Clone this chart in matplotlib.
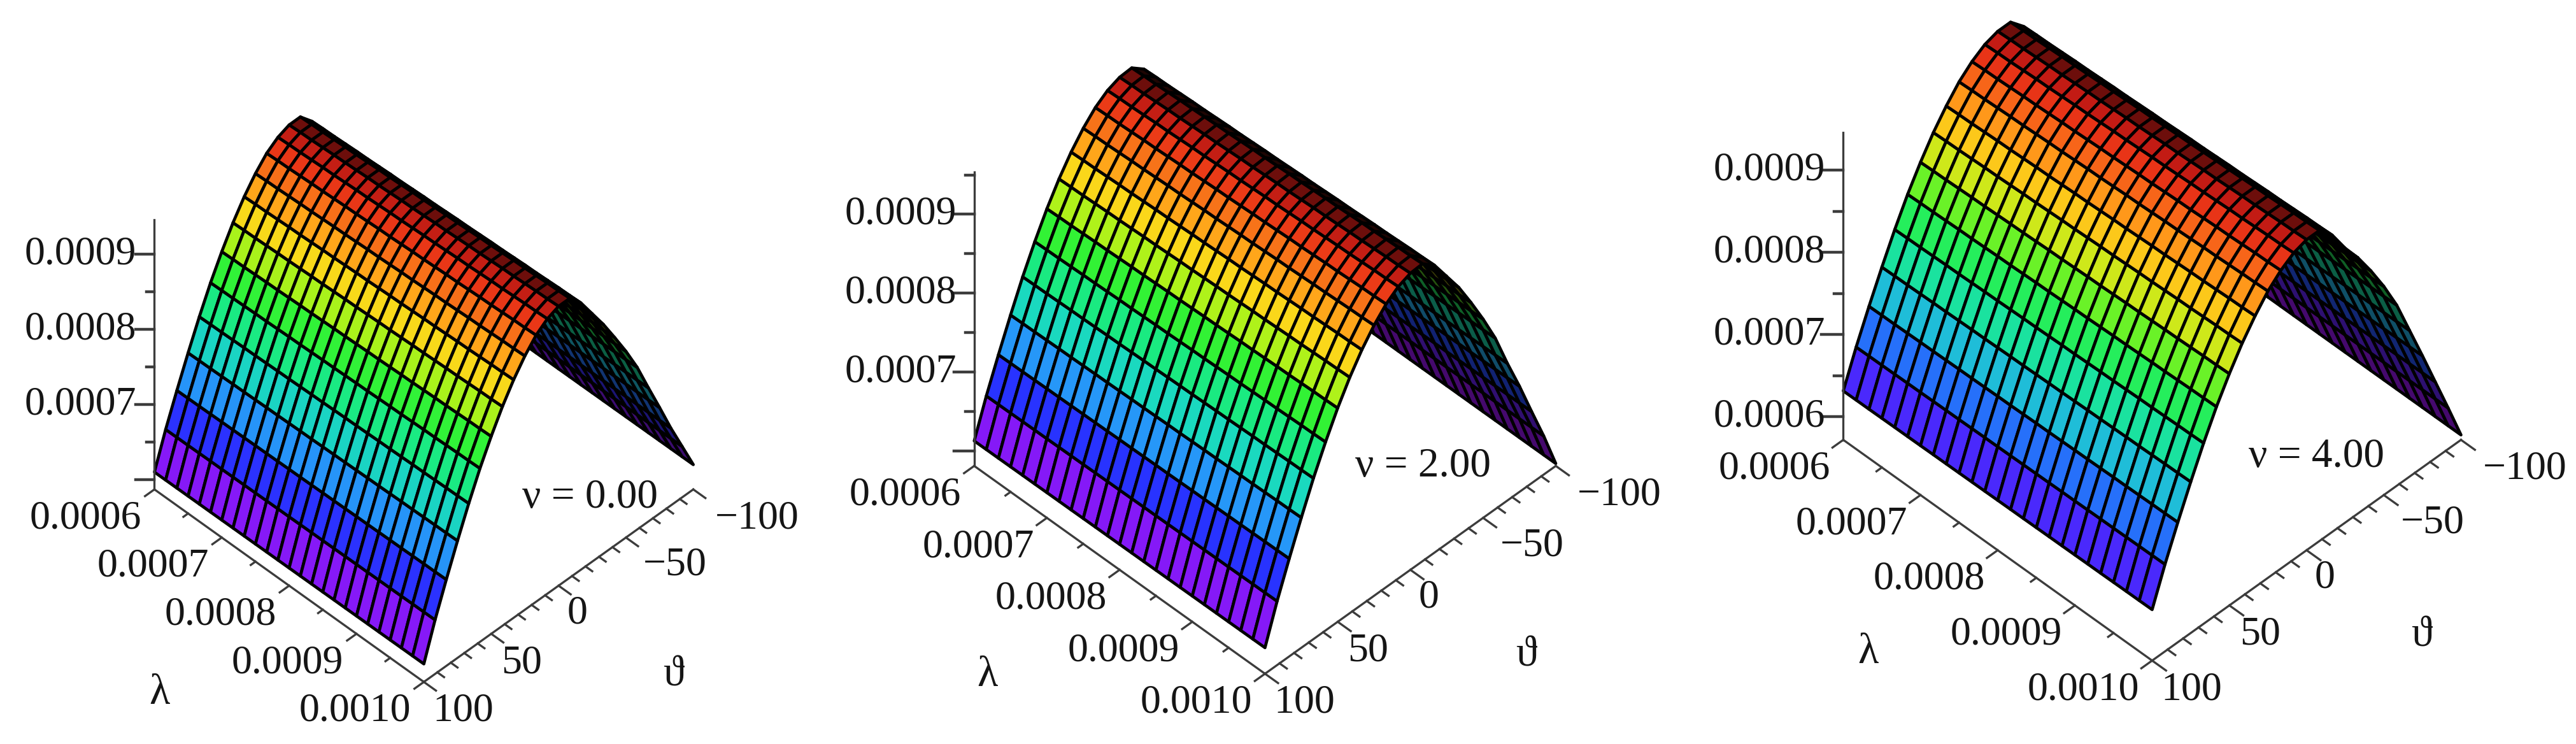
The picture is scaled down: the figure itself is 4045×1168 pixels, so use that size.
import numpy as np
import matplotlib
matplotlib.use('Agg')
import matplotlib.pyplot as plt
from matplotlib.colors import LinearSegmentedColormap, Normalize
from mpl_toolkits.mplot3d import proj3d

plt.rcParams['font.family'] = ['Liberation Serif', 'DejaVu Serif']

W = 4045
H = 1168
K = W / 1568.0   # thumbnail px -> full px

theta = np.linspace(-100, 100, 25)
lam = np.linspace(0.0006, 0.0010, 25)

# surface height along theta (-100..100) at lambda=0.0010, in 1e-4
prof_0 = [6.20, 6.55, 6.90, 7.28, 7.65, 8.03, 8.35, 8.64, 8.92, 9.17, 9.42, 9.59, 9.59,
          9.53, 9.42, 9.25, 9.04, 8.79, 8.50, 8.18, 7.82, 7.43, 7.02, 6.59, 6.11]
prof_2 = [5.84, 6.30, 6.72, 7.15, 7.55, 7.98, 8.33, 8.65, 8.95, 9.20, 9.45, 9.58, 9.57,
          9.51, 9.40, 9.24, 9.04, 8.80, 8.52, 8.20, 7.85, 7.46, 7.05, 6.62, 6.14]
prof_4 = [5.78, 6.22, 6.65, 7.08, 7.50, 7.92, 8.26, 8.56, 8.83, 9.06, 9.33, 9.50, 9.50,
          9.45, 9.35, 9.21, 9.02, 8.80, 8.54, 8.25, 7.92, 7.56, 7.18, 6.78, 6.34]

# the crest drops a little towards lambda=0.0006
lift = [.960, .962, .963, .965, .967, .968, .970, .972, .973, .975, .977, .978, .980,
        .982, .983, .985, .987, .988, .990, .992, .993, .995, .997, .998, 1.0]

# brightness of each mesh cell from theta=-100 to 100 (far side is the dark underside)
shade = [.45, .45, .45, .45, .42, .40, .34, .26, .16, .08, .12, .45,
         .80, .92, .97, 1, 1, 1, 1, 1, 1, 1, 1, 1]

nu_labels = ['ν = 0.00', 'ν = 2.00', 'ν = 4.00']
lam_ticks = [0.0006, 0.0007, 0.0008, 0.0009, 0.0010]
lam_labels = ['0.0006', '0.0007', '0.0008', '0.0009', '0.0010']
theta_ticks = [100, 50, 0, -50, -100]
theta_labels = ['100', '50', '0', '−50', '−100']
z_ticks_0 = [0.0007, 0.0008, 0.0009]
z_ticks_4 = [0.0006, 0.0007, 0.0008, 0.0009]

hue = LinearSegmentedColormap.from_list('zhue', [
    (0.00, (0.60, 0.08, 0.95)), (0.075, (0.52, 0.10, 0.97)), (0.206, (0.15, 0.20, 1.00)),
    (0.328, (0.15, 0.60, 0.97)), (0.443, (0.10, 0.85, 0.75)), (0.551, (0.10, 0.92, 0.50)),
    (0.649, (0.20, 0.95, 0.20)), (0.736, (0.70, 0.95, 0.10)), (0.81, (0.98, 0.85, 0.10)),
    (0.875, (1.00, 0.65, 0.10)), (0.93, (1.00, 0.45, 0.10)), (0.965, (1.00, 0.25, 0.10)),
    (1.00, (0.95, 0.12, 0.10)),
])

EL = 45.6
AZ = 45

fig = plt.figure(figsize=(W / 100, H / 100), dpi=100)


def px(ax, x, y, z):
    a, b, _ = proj3d.proj_transform(x, y, z, ax.get_proj())
    return ax.transData.transform((a, b))


def place(ax, left, bottom):
    # size and shift the axes so the floor corners land where they are in the picture
    side = 1600.0
    for i in range(3):
        ax.set_position([0, 0, side / W, side / H])
        ax.apply_aspect()
        p0 = px(ax, 100, 0.0006, ax.get_zlim()[0])
        p1 = px(ax, 100, 0.0010, ax.get_zlim()[0])
        side = side * (bottom[0] - left[0]) / (p1[0] - p0[0])
    ax.set_position([0, 0, side / W, side / H])
    ax.apply_aspect()
    p1 = px(ax, 100, 0.0010, ax.get_zlim()[0])
    dx = bottom[0] - p1[0]
    dy = (H - bottom[1]) - p1[1]
    ax.set_position([dx / W, dy / H, side / W, side / H])
    ax.apply_aspect()


def panel(prof, left, bottom, zbase, ztop, spacing, vmin, zticks, nu, nu_xy, lam_xy, th_xy):
    ax = fig.add_subplot(projection='3d', proj_type='ortho', computed_zorder=False)
    ax.view_init(elev=EL, azim=AZ)
    ax.set_axis_off()
    ax.patch.set_alpha(0)
    top = 0.00100
    half = (bottom[0] - left[0]) / K
    ax.set_box_aspect((half / 0.7071, half / 0.7071,
                       (top - zbase) / 1e-4 * spacing / np.cos(np.radians(EL))))
    ax.set_xlim(-100, 100, view_margin=0)
    ax.set_ylim(0.0006, 0.0010, view_margin=0)
    ax.set_zlim(zbase, top, view_margin=0)

    z1 = np.array(prof) * 1e-4
    X, Y = np.meshgrid(theta, lam)
    Z = zbase + (z1[None, :] - zbase) * np.array(lift)[:, None]

    norm = Normalize(vmin, max(z1))
    cell = (z1[:-1] + z1[1:]) / 2
    fc = hue(norm(cell))
    fc[:, :3] = fc[:, :3] * np.array(shade)[:, None]
    fcolors = np.tile(fc[None, :, :], (len(lam) - 1, 1, 1))
    surf = ax.plot_surface(X, Y, Z, facecolors=fcolors, rstride=1, cstride=1, shade=False,
                           edgecolor='black', linewidth=3.4, antialiased=True, zorder=1)
    surf.set_clip_on(False)

    place(ax, left, bottom)

    axis_c = '#3c3c3c'
    lw = 2.4
    lines = [
        ([100, 100], [0.0006, 0.0010], [zbase, zbase]),
        ([100, -100], [0.0010, 0.0010], [zbase, zbase]),
        ([100, 100], [0.0006, 0.0006], [zbase, ztop]),
    ]
    for lx, ly, lz in lines:
        ln, = ax.plot(lx, ly, lz, color=axis_c, lw=lw, zorder=2)
        ln.set_clip_on(False)

    # ticks on lambda axis, every second one longer
    for i, v in enumerate(np.arange(0.0006, 0.00101, 0.00005)):
        d = 7 if i % 2 == 0 else 3.5
        ln, = ax.plot([100, 100 + d], [v, v], [zbase, zbase], color=axis_c, lw=lw, zorder=2)
        ln.set_clip_on(False)
    # ticks on theta axis, every fifth one longer
    for v in np.arange(-100, 101, 10):
        d = 0.000018 if v % 50 == 0 else 0.00001
        ln, = ax.plot([v, v], [0.0010, 0.0010 + d], [zbase, zbase], color=axis_c, lw=lw, zorder=2)
        ln.set_clip_on(False)
    # ticks on z axis, pointing left on screen
    first = np.ceil(zbase / 5e-5) * 5e-5
    for v in np.arange(first, ztop, 5e-5):
        major = round(v / 5e-5) % 2 == 0
        d = 7 if major else 3
        ln, = ax.plot([100 + d, 100], [0.0006 - d * 2e-6, 0.0006], [v, v],
                      color=axis_c, lw=lw + 0.8, zorder=2)
        ln.set_clip_on(False)

    fs = 46
    for v, s in zip(lam_ticks, lam_labels):
        a, b, _ = proj3d.proj_transform(100, v, zbase, ax.get_proj())
        ax.annotate(s, (a, b), xytext=(-108, -46), textcoords='offset pixels', fontsize=fs,
                    ha='center', va='center', annotation_clip=False, color='#151515')
    th_off = [(62, -46), (48, -46), (29, -44), (77, -44), (100, -46)]
    for v, s, o in zip(theta_ticks, theta_labels, th_off):
        a, b, _ = proj3d.proj_transform(v, 0.0010, zbase, ax.get_proj())
        ax.annotate(s, (a, b), xytext=o, textcoords='offset pixels', fontsize=fs,
                    ha='center', va='center', annotation_clip=False, color='#151515')
    for v in zticks:
        a, b, _ = proj3d.proj_transform(100, 0.0006, v, ax.get_proj())
        ax.annotate('%.4f' % v, (a, b), xytext=(-28, 0), textcoords='offset pixels', fontsize=fs,
                    ha='right', va='center', annotation_clip=False, color='#151515')

    fig.text(nu_xy[0] * K / W, 1 - nu_xy[1] * K / H, nu, fontsize=47, ha='center', va='center',
             color='#151515')
    fig.text(lam_xy[0] * K / W, 1 - lam_xy[1] * K / H, 'λ', fontsize=48, ha='center',
             va='center', color='#151515')
    fig.text(th_xy[0] * K / W, 1 - th_xy[1] * K / H, 'ϑ', fontsize=48, ha='center',
             va='center', color='#151515')


panel(prof_0, (94 * K, 297 * K), (258 * K, 415 * K), 0.000587, 0.000946, 45.7, 6.10e-4,
      z_ticks_0, nu_labels[0], (359, 303), (97, 422), (410, 411))
panel(prof_2, (593 * K, 284 * K), (770 * K, 410 * K), 0.000581, 0.000954, 48, 6.12e-4,
      z_ticks_0, nu_labels[1], (866, 284), (601, 411), (929, 399))
panel(prof_4, (1122 * K, 268 * K), (1310 * K, 402 * K), 0.000572, 0.000946, 50, 6.00e-4,
      z_ticks_4, nu_labels[2], (1410, 278), (1137, 397), (1474, 387))

fig.savefig('out.png', dpi=100)
